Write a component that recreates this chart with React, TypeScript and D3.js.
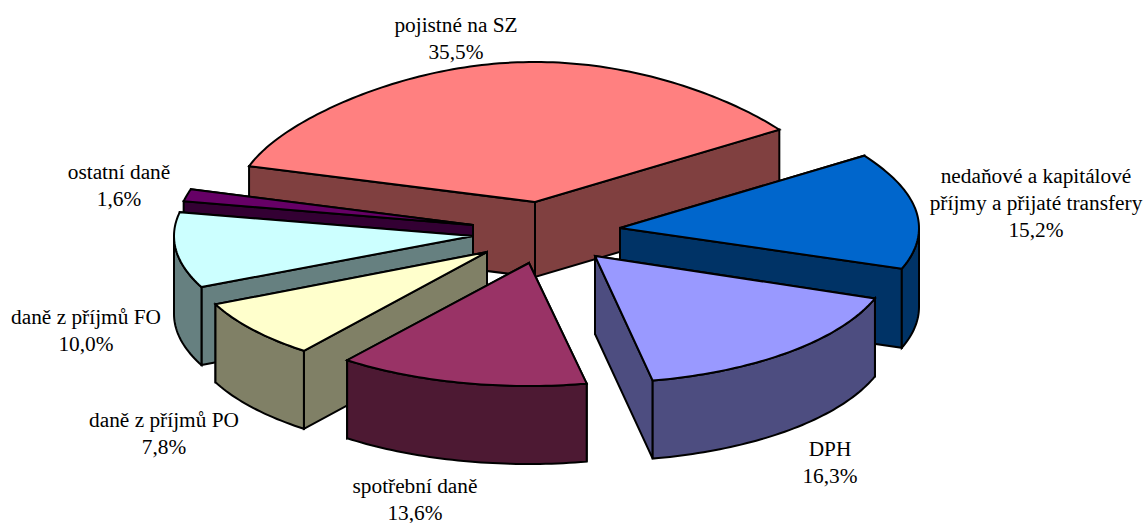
import React from "react";
import * as d3 from "d3";

const W = 1145;
const H = 523;

// data (order of the pie, clockwise)
const categories = ["pojistné na SZ", "nedaňové a kapitálové|příjmy a přijaté transfery", "DPH", "spotřební daně", "daně z příjmů PO", "daně z příjmů FO", "ostatní daně"];
const shares = [35.5, 15.2, 16.3, 13.6, 7.8, 10.0, 1.6];
const shareLabels = ["35,5%", "15,2%", "16,3%", "13,6%", "7,8%", "10,0%", "1,6%"];

// styles
const topColors = ["#FF8080", "#0066CC", "#9999FF", "#993366", "#FFFFCC", "#CCFFFF", "#660066"];
const sideColors = ["#804040", "#003366", "#4D4D80", "#4D1933", "#808066", "#668080", "#330033"];

// layout: explosion offset of every slice from the pie centre, its radii and thickness, the paint order, label anchor
const explodeX = [0, 85, 60, -6, -48, -62, -62];
const explodeY = [0, 26, 54, 61, 50, 34, 23];
const radiiX = [299, 299, 297, 297, 299, 299, 295];
const radiiY = [122, 122, 127, 123, 125, 122, 122];
const startNudge = [0, 0, 0, 0.6, 0.6, 0, 0]; // degrees of projection skew at the slice edges
const endNudge = [0, 0, 0.6, 0.6, 0, 0, 0];
const depths = [75, 79, 78, 78, 78, 78, 78];
const paintOrder = [0, 6, 5, 4, 1, 3, 2];
const labelX = [456, 1036, 830, 415, 164, 86, 119];
const labelY = [32, 183, 456, 493, 427, 324, 179];

const cx = 535;
const cy = 202;
const backBulge = 18;
const lineGap = 27;
const rad = Math.PI / 180;

const pie = d3
  .pie<number>()
  .sort(null)
  .startAngle(-73 * rad)
  .endAngle((360 - 73) * rad);
const arcs = pie(shares);

type P = [number, number];
const line = d3.line<P>();
const sample = (a: number, b: number): number[] => {
  const n = Math.max(2, Math.ceil(Math.abs(b - a) / 0.02));
  return d3.range(n + 1).map((i) => a + ((b - a) * i) / n);
};

function Slice({ i }: { i: number }) {
  const a0 = arcs[i].startAngle + startNudge[i] * rad;
  const a1 = arcs[i].endAngle + endNudge[i] * rad;
  const ox = cx + explodeX[i];
  const oy = cy + explodeY[i];
  const d = depths[i];
  const at = (t: number, dz = 0): P => {
    const c = Math.cos(t);
    return [ox + radiiX[i] * Math.sin(t), oy - c * (radiiY[i] + backBulge * Math.pow(Math.max(0, c), 3)) + dz];
  };
  const apex: P = [ox, oy];
  const apexB: P = [ox, oy + d];

  const topPts: P[] = [apex, ...sample(a0, a1).map((t) => at(t))];
  const walls = [a0, a1]
    .slice()
    .sort((p, q) => at(p)[1] - at(q)[1])
    .map((t) => [apex, at(t), at(t, d), apexB] as P[]);

  const lo = Math.max(a0, Math.PI / 2);
  const hi = Math.min(a1, (3 * Math.PI) / 2);
  const outer: P[] | null =
    hi > lo
      ? [...sample(lo, hi).map((t) => at(t)), ...sample(hi, lo).map((t) => at(t, d))]
      : null;

  const common = { stroke: "#000", strokeWidth: 2, strokeLinejoin: "miter" as const, strokeMiterlimit: 3 };
  return (
    <g>
      {walls.map((w, k) => (
        <path key={k} d={line(w) + "Z"} fill={sideColors[i]} {...common} />
      ))}
      {outer && <path d={line(outer) + "Z"} fill={sideColors[i]} {...common} />}
      <path d={line(topPts) + "Z"} fill={topColors[i]} {...common} />
    </g>
  );
}

export default function App() {
  return (
    <svg
      width={W}
      height={H}
      viewBox={`0 0 ${W} ${H}`}
      style={{ position: "absolute", left: 0, top: 0, background: "#fff" }}
    >
      {paintOrder.map((i) => (
        <Slice key={i} i={i} />
      ))}
      <g fontFamily="'Liberation Serif', serif" fontSize={21.33} fill="#000" textAnchor="middle">
        {categories.map((c, i) => {
          const lines = [...c.split("|"), shareLabels[i]];
          return (
            <text key={c} x={labelX[i]} y={labelY[i]}>
              {lines.map((t, k) => (
                <tspan key={k} x={labelX[i]} dy={k === 0 ? 0 : lineGap}>
                  {t}
                </tspan>
              ))}
            </text>
          );
        })}
      </g>
    </svg>
  );
}
